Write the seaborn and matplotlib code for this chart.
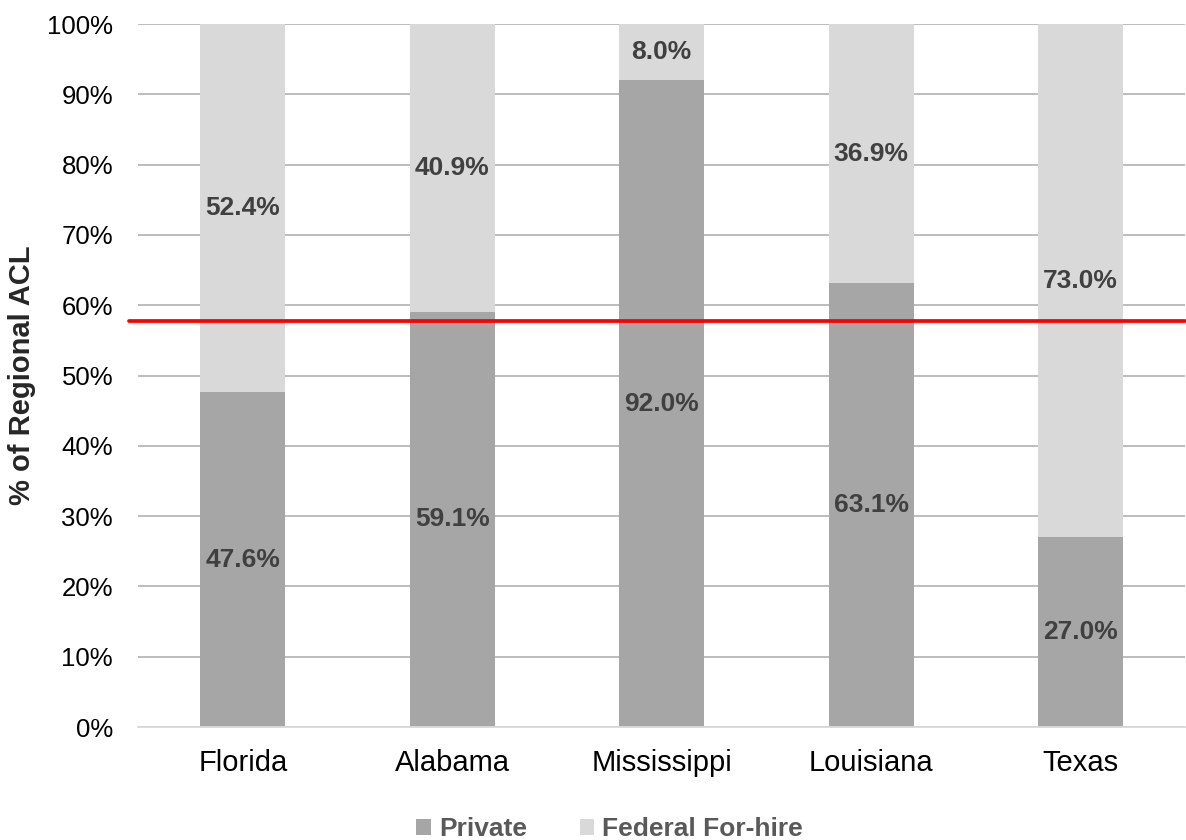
import pandas as pd
import numpy as np
import matplotlib
matplotlib.use("Agg")
import matplotlib.pyplot as plt
import seaborn as sns

states = ["Florida", "Alabama", "Mississippi", "Louisiana", "Texas"]
private = [47.6, 59.1, 92.0, 63.1, 27.0]
federal = [52.4, 40.9, 8.0, 36.9, 73.0]
red_line = 57.7

df = pd.DataFrame({"state": states, "private": private, "federal": federal})
df["total"] = df["private"] + df["federal"]

sns.set_style("white")
plt.rcParams["font.family"] = ["Liberation Sans", "DejaVu Sans"]

fig, ax = plt.subplots(figsize=(11.86, 8.4), dpi=100)
fig.subplots_adjust(left=0.1164, right=0.9995, bottom=0.1345, top=0.9714)

# stacked look: total first (federal colour), private on top of it
sns.barplot(x="state", y="total", data=df, color="#D9D9D9", width=0.405,
            label="Federal For-hire", ax=ax, zorder=2, linewidth=0)
sns.barplot(x="state", y="private", data=df, color="#A6A6A6", width=0.405,
            label="Private", ax=ax, zorder=2, linewidth=0)

ax.axhline(red_line, xmin=-0.009, xmax=1, color="#FF0000", lw=2.7,
           clip_on=False, zorder=4)

# value labels in the middle of each segment
for i in range(len(df)):
    p = df["private"][i]
    f = df["federal"][i]
    ax.text(i, p / 2, f"{p:.1f}%", ha="center", va="center",
            fontsize=19, fontweight="bold", color="#404040", zorder=5)
    ax.text(i, p + f / 2, f"{f:.1f}%", ha="center", va="center",
            fontsize=19, fontweight="bold", color="#404040", zorder=5)

ax.set_ylim(0, 100)
ax.set_xlim(-0.5, 4.5)
ax.set_yticks(np.arange(0, 101, 10))
ax.set_yticklabels([f"{v}%" for v in range(0, 101, 10)])
ax.yaxis.grid(True, color="#B8B8B8", lw=1.3, zorder=0)
ax.set_axisbelow(True)
ax.tick_params(axis="both", colors="black", length=0)
ax.tick_params(axis="y", labelsize=18.5, pad=18)
ax.tick_params(axis="x", labelsize=21, pad=16)
ax.set_xlabel("")
ax.set_ylabel("% of Regional ACL", fontsize=21, fontweight="bold", labelpad=8)

for s in ["top", "right", "left"]:
    ax.spines[s].set_visible(False)
ax.spines["bottom"].set_color("#D9D9D9")
ax.spines["bottom"].set_linewidth(1.3)

handles, labels = ax.get_legend_handles_labels()
order = [labels.index("Private"), labels.index("Federal For-hire")]
leg = fig.legend([handles[k] for k in order], [labels[k] for k in order],
                 loc="lower center", bbox_to_anchor=(0.514, -0.03), ncol=2,
                 frameon=False, handlelength=0.55, handleheight=0.55,
                 handletextpad=0.3, columnspacing=2.0,
                 prop={"size": 19, "weight": "bold"})
for t in leg.get_texts():
    t.set_color("#595959")
if ax.get_legend() is not None:
    ax.get_legend().remove()

fig.savefig("out.png", dpi=100)
